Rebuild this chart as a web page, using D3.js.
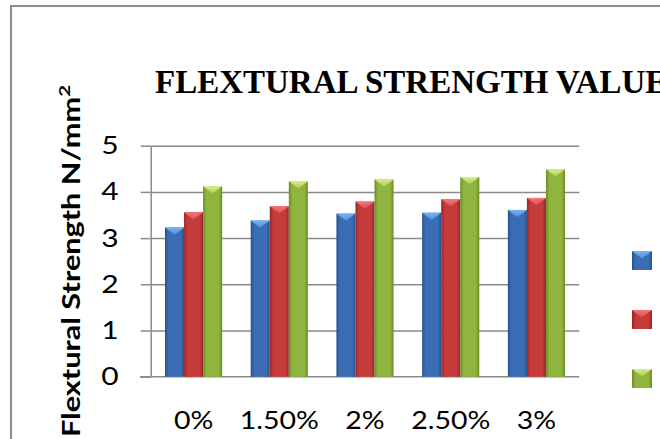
<!DOCTYPE html>
<html>
<head>
<meta charset="utf-8">
<script src="https://cdn.jsdelivr.net/npm/d3@7"></script>
<style>
  html, body { margin: 0; padding: 0; background: #fff; }
  svg { display: block; }
</style>
</head>
<body>
<div id="chart"></div>
<script>
// ---- data ----
const categories = ["0%", "1.50%", "2%", "2.50%", "3%"];
const seriesNames = ["Series 1", "Series 2", "Series 3"];
const series1 = [3.23, 3.38, 3.53, 3.55, 3.61];
const series2 = [3.56, 3.69, 3.79, 3.84, 3.87];
const series3 = [4.12, 4.23, 4.27, 4.32, 4.49];
const yTicks = [0, 1, 2, 3, 4, 5];
const titleText = "FLEXTURAL STRENGTH VALUES";
const yTitle = "Flextural Strength N/mm";

const seriesValues = [series1, series2, series3];
const palette = [
  {main: "#3a6db4", dark: "#24528f", light: "#79b4ee", lightEnd: "#4f8fd6"},
  {main: "#c53a3a", dark: "#982626", light: "#f27878", lightEnd: "#d65050"},
  {main: "#8fb53e", dark: "#6a8d27", light: "#dcef84", lightEnd: "#a8cc50"}
];

const W = 660, H = 439;
const svg = d3.select("#chart").append("svg").attr("width", W).attr("height", H);

// outer chart border (extends beyond the visible crop)
svg.append("rect").attr("x", 11).attr("y", 6).attr("width", 900).attr("height", 600)
  .attr("fill", "#fff").attr("stroke", "#8c8c8c").attr("stroke-width", 2);

// gradients
const defs = svg.append("defs");
palette.forEach((c, i) => {
  const g = defs.append("linearGradient").attr("id", "body" + i)
    .attr("x1", 0).attr("x2", 1).attr("y1", 0).attr("y2", 0);
  g.append("stop").attr("offset", 0).attr("stop-color", c.dark);
  g.append("stop").attr("offset", 0.18).attr("stop-color", c.main);
  g.append("stop").attr("offset", 0.82).attr("stop-color", c.main);
  g.append("stop").attr("offset", 1).attr("stop-color", c.dark);
  const t = defs.append("linearGradient").attr("id", "top" + i)
    .attr("x1", 0).attr("x2", 0).attr("y1", 0).attr("y2", 1);
  t.append("stop").attr("offset", 0).attr("stop-color", c.light);
  t.append("stop").attr("offset", 1).attr("stop-color", c.lightEnd);
});

// scales
const plotLeft = 150.7, plotRight = 579.3, plotTop = 145.7, plotBottom = 376.7;
const x0 = d3.scaleBand().domain(categories).range([plotLeft, plotRight]);
const barW = x0.step() / 4.5;
const groupW = barW * 3;
const x1 = d3.scaleBand().domain(d3.range(3))
  .range([(x0.step() - groupW) / 2, (x0.step() + groupW) / 2]);
const y = d3.scaleLinear().domain([0, 5]).range([plotBottom, plotTop]);

// gridlines
const grid = svg.append("g").attr("transform", `translate(${plotLeft},0)`)
  .call(d3.axisLeft(y).tickValues(yTicks.filter(d => d > 0)).tickSize(-(plotRight - plotLeft)).tickFormat(""));
grid.select(".domain").remove();
grid.selectAll("line").attr("stroke", "#8a8a8a").attr("stroke-width", 1.5);

// y axis with outward ticks
const yAxis = svg.append("g").attr("transform", `translate(${plotLeft},0)`)
  .call(d3.axisLeft(y).tickValues(yTicks).tickSize(10).tickPadding(22).tickSizeOuter(0).tickFormat(d3.format("d")));
yAxis.select(".domain").attr("stroke", "#8a8a8a").attr("stroke-width", 1.5);
yAxis.selectAll("line").attr("stroke", "#8a8a8a").attr("stroke-width", 1.5);
yAxis.selectAll("text").attr("font-family", "Lato, 'Open Sans', sans-serif")
  .attr("font-size", 25).attr("fill", "#000")
  .attr("transform", function() {
    const xx = +d3.select(this).attr("x"); const s = 1.2;
    return `translate(${xx * (1 - s)},0) scale(${s},1)`;
  });

// x axis line at zero
svg.append("line").attr("x1", 140).attr("x2", plotRight).attr("y1", y(0)).attr("y2", y(0))
  .attr("stroke", "#8a8a8a").attr("stroke-width", 1.5);

// x axis labels
const xAxis = svg.append("g").attr("transform", `translate(0,${y(0)})`)
  .call(d3.axisBottom(x0).tickSize(0).tickPadding(35));
xAxis.select(".domain").remove();
xAxis.selectAll("text").attr("font-family", "Lato, 'Open Sans', sans-serif")
  .attr("font-size", 25).attr("fill", "#000")
  .attr("transform", "scale(1.14,1)")
  .attr("x", 0);

// bevelled bar drawing helper
function bevelBar(g, x, yTop, w, h, i) {
  g.append("rect").attr("x", x).attr("y", yTop).attr("width", w).attr("height", h)
    .attr("fill", `url(#body${i})`);
  const d = Math.min(w * 0.38, h / 2);
  g.append("path")
    .attr("d", `M${x},${yTop} L${x + w},${yTop} L${x + w / 2},${yTop + d} Z`)
    .attr("fill", `url(#top${i})`);
  g.append("path")
    .attr("d", `M${x},${yTop + h} L${x + w},${yTop + h} L${x + w / 2},${yTop + h - d} Z`)
    .attr("fill", palette[i].main).attr("opacity", 0.5);
}

// bars
const bars = svg.append("g");
categories.forEach((cat, ci) => {
  seriesValues.forEach((vals, si) => {
    const bx = x0(cat) + x1(si);
    const yt = y(vals[ci]);
    bevelBar(bars, bx, yt, x1.bandwidth(), y(0) - yt, si);
  });
});

// legend markers (labels fall outside the visible crop)
const ly = d3.scalePoint().domain(seriesNames).range([251, 369]);
const legend = svg.append("g");
seriesNames.forEach((n, i) => {
  bevelBar(legend, 632, ly(n), 20, 19, i);
});

// title (runs past the right edge, as in the cropped reference)
svg.append("text").attr("x", 155).attr("y", 93)
  .attr("font-family", "'Liberation Serif', 'Times New Roman', serif")
  .attr("font-weight", "bold").attr("font-size", 33).attr("fill", "#000")
  .text(titleText);

// y-axis title
const yt = svg.append("text")
  .attr("transform", "translate(80,437) rotate(-90)")
  .attr("font-family", "Lato, 'Open Sans', sans-serif")
  .attr("font-weight", "bold").attr("font-size", 24).attr("fill", "#000")
  .attr("textLength", 352).attr("lengthAdjust", "spacingAndGlyphs");
yt.append("tspan").text(yTitle);
yt.append("tspan").attr("dy", -10).attr("font-size", 16).text("2");
</script>
</body>
</html>
